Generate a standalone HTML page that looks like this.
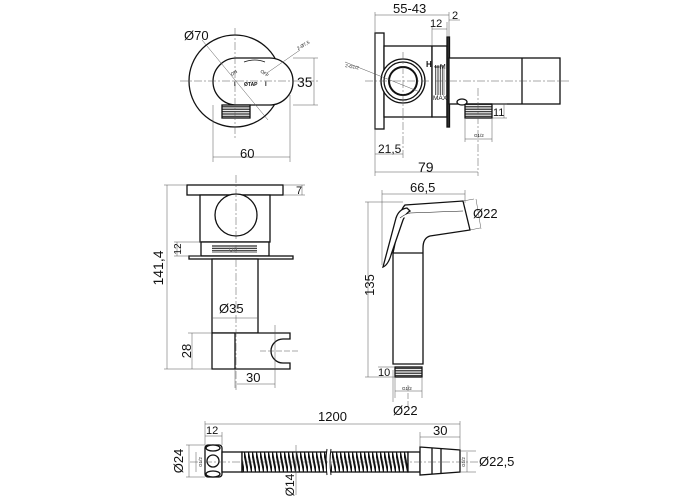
<!DOCTYPE html>
<html><head><meta charset="utf-8"><style>
html,body{margin:0;padding:0;background:#fff}
svg{display:block}
text{font-family:"Liberation Sans",sans-serif;fill:#111}
</style></head><body>
<svg width="700" height="500" viewBox="0 0 700 500" xmlns="http://www.w3.org/2000/svg">
<defs>
<pattern id="hose" width="4" height="20" patternUnits="userSpaceOnUse" patternTransform="translate(0,452)">
<rect width="4" height="20" fill="#fff"/>
<line x1="0" y1="0" x2="4" y2="20" stroke="#111" stroke-width="2"/>
</pattern>
<pattern id="thr" width="6" height="2.4" patternUnits="userSpaceOnUse">
<rect width="6" height="2.4" fill="#fff"/><line x1="0" y1="1.2" x2="6" y2="1.2" stroke="#222" stroke-width="1.2"/>
</pattern>
<pattern id="thrv" width="2.4" height="6" patternUnits="userSpaceOnUse">
<rect width="2.4" height="6" fill="#fff"/><line x1="1.2" y1="0" x2="1.2" y2="6" stroke="#333" stroke-width="1"/>
</pattern>
</defs>
<g fill="none" stroke="#111" stroke-width="1.3">
<circle cx="235" cy="81" r="46"/>
<rect x="213" y="58" width="80" height="47" rx="23.5" fill="#fff"/>
<rect x="222" y="105" width="28" height="13" fill="url(#thr)"/>
<path d="M244 62 Q255 58 265 62" stroke-width="0.8"/>
</g>
<g stroke="#555" stroke-width="0.5" fill="none">
<line x1="180" y1="81" x2="320" y2="81" stroke-dasharray="8,2,2,2"/>
<line x1="235" y1="28" x2="235" y2="140" stroke-dasharray="8,2,2,2"/>
<line x1="202" y1="40" x2="268" y2="120"/>
<line x1="267" y1="73" x2="300" y2="50"/>
<line x1="213" y1="105" x2="213" y2="162"/><line x1="290" y1="95" x2="290" y2="162"/>
<line x1="213" y1="157" x2="290" y2="157"/>
<line x1="293" y1="58" x2="318" y2="58"/><line x1="293" y1="105" x2="318" y2="105"/>
<line x1="314" y1="58" x2="314" y2="105"/>
</g>
<text x="184" y="40" font-size="13">Ø70</text>
<text x="240" y="158" font-size="13">60</text>
<text x="297" y="87" font-size="14">35</text>
<text x="298" y="50" font-size="4.5" transform="rotate(-30 298 50)">2-Ø7,5</text>
<text x="232" y="76" font-size="4.5" transform="rotate(-35 232 76)">ON</text>
<text x="260" y="72" font-size="4.5" transform="rotate(35 260 72)">OFF</text>
<text x="244" y="86" font-size="5" font-weight="bold">ØTAP</text>
<text x="234" y="86" font-size="6" font-weight="bold">I</text>
<text x="265" y="86" font-size="6" font-weight="bold">I</text>

<g fill="#fff" stroke="#111" stroke-width="1.3">
<rect x="375" y="33" width="9" height="96"/>
<rect x="384" y="46" width="48" height="71"/>
<rect x="432" y="46" width="15" height="71"/>
<rect x="447" y="37" width="2.5" height="90" fill="#333"/>
<rect x="449" y="58" width="111" height="46"/>
<line x1="522" y1="58" x2="522" y2="104"/>
<circle cx="403" cy="81" r="22"/>
<circle cx="403" cy="81" r="19"/>
<circle cx="403" cy="81" r="14" stroke-width="2"/>
<rect x="465" y="104" width="27" height="14" fill="url(#thr)"/>
<ellipse cx="462" cy="102" rx="5" ry="3"/>
<rect x="435" y="65" width="10" height="30" fill="url(#thrv)" stroke="none"/>
</g>
<text x="426" y="67" font-size="8" font-weight="bold">H</text>
<text x="434" y="69" font-size="7">⇐M</text>
<text x="433" y="100" font-size="6.5">MAX</text>
<text x="345" y="67" font-size="4.5" transform="rotate(10 345 67)">2-G1/2</text>
<g stroke="#555" stroke-width="0.5" fill="none">
<line x1="365" y1="81" x2="570" y2="81" stroke-dasharray="8,2,2,2"/>
<line x1="403" y1="52" x2="403" y2="158" stroke-dasharray="8,2,2,2"/>
<line x1="478" y1="88" x2="478" y2="176" stroke-dasharray="8,2,2,2"/>
<line x1="345" y1="62" x2="420" y2="92"/>
<line x1="375" y1="12" x2="375" y2="176"/>
<line x1="449" y1="12" x2="449" y2="37"/>
<line x1="432" y1="26" x2="432" y2="46"/>
<line x1="447" y1="22" x2="447" y2="37"/>
<line x1="375" y1="15" x2="449" y2="15"/>
<line x1="432" y1="29" x2="447" y2="29"/>
<line x1="449" y1="20" x2="460" y2="20"/>
<line x1="375" y1="154" x2="403" y2="154"/>
<line x1="375" y1="172" x2="478" y2="172"/>
<line x1="492" y1="104" x2="507" y2="104"/><line x1="492" y1="118" x2="507" y2="118"/>
<line x1="504" y1="104" x2="504" y2="118"/>
<line x1="465" y1="118" x2="465" y2="142"/><line x1="492" y1="118" x2="492" y2="142"/>
<line x1="465" y1="139" x2="492" y2="139"/>
</g>
<text x="393" y="13" font-size="13">55-43</text>
<text x="430" y="27" font-size="11">12</text>
<text x="452" y="19" font-size="11">2</text>
<text x="378" y="153" font-size="12">21,5</text>
<text x="418" y="172" font-size="14">79</text>
<text x="493" y="116" font-size="11">11</text>
<text x="474" y="137" font-size="4.5">G1/2</text>

<g fill="#fff" stroke="#111" stroke-width="1.3">
<rect x="187" y="185" width="96" height="10"/>
<rect x="200" y="195" width="70" height="47"/>
<circle cx="236" cy="215" r="21"/>
<rect x="201" y="242" width="68" height="14"/>
<rect x="212" y="245" width="45" height="8" fill="url(#thr)" stroke="none"/>
<rect x="189" y="256" width="104" height="3"/>
<rect x="212" y="259" width="46" height="74"/>
<path d="M212 333 H290 V339 H283 A12 12 0 1 0 283 363 H290 V369 H212 Z"/>
<line x1="235" y1="333" x2="235" y2="369"/>
</g>
<text x="229" y="252" font-size="6" style="fill:#666">UP</text>
<g stroke="#555" stroke-width="0.5" fill="none">
<line x1="236" y1="175" x2="236" y2="390" stroke-dasharray="8,2,2,2"/>
<line x1="260" y1="351" x2="300" y2="351" stroke-dasharray="6,2"/>
<line x1="275" y1="325" x2="275" y2="388"/>
<line x1="164" y1="185" x2="187" y2="185"/><line x1="164" y1="369" x2="212" y2="369"/>
<line x1="167" y1="185" x2="167" y2="369"/>
<line x1="174" y1="242" x2="201" y2="242"/><line x1="174" y1="256" x2="201" y2="256"/>
<line x1="177" y1="242" x2="177" y2="256"/>
<line x1="283" y1="185" x2="305" y2="185"/><line x1="283" y1="195" x2="305" y2="195"/>
<line x1="302" y1="185" x2="302" y2="195"/>
<line x1="212" y1="318" x2="258" y2="318"/>
<line x1="188" y1="333" x2="212" y2="333"/>
<line x1="192" y1="333" x2="192" y2="369"/>
<line x1="235" y1="369" x2="235" y2="388"/>
<line x1="235" y1="384" x2="275" y2="384"/>
</g>
<text x="172" y="277" font-size="14" transform="rotate(-90 163 277)" text-anchor="middle">141,4</text>
<text x="181" y="249" font-size="10" transform="rotate(-90 181 249)" text-anchor="middle">12</text>
<text x="296" y="194" font-size="11">7</text>
<text x="219" y="313" font-size="13">Ø35</text>
<text x="191" y="351" font-size="13" transform="rotate(-90 191 351)" text-anchor="middle">28</text>
<text x="246" y="382" font-size="13">30</text>

<g fill="#fff" stroke="#111" stroke-width="1.3">
<path d="M405 205 L463 201 L470 230 L430 236 Q423 238 423 248 V364 H393 V253 Q396 240 398 225 Q400 210 405 205 Z"/>
<path d="M407 208 Q399 209 396 218 L383 267 Q388 265 391 255 L403 220 Q406 213 410 211 Z"/>
<path d="M400 218 Q405 214 410 213 L463 211" stroke-width="0.6"/>
<line x1="393" y1="253" x2="423" y2="253"/>
<rect x="395" y="367" width="27" height="10" fill="url(#thr)"/>
</g>
<g stroke="#555" stroke-width="0.5" fill="none">
<line x1="408" y1="385" x2="408" y2="408" stroke-dasharray="6,2"/>
<line x1="382" y1="190" x2="382" y2="265"/><line x1="465" y1="190" x2="465" y2="203"/>
<line x1="382" y1="194" x2="465" y2="194"/>
<line x1="463" y1="201" x2="474" y2="199"/><line x1="470" y1="230" x2="480" y2="228"/>
<line x1="476" y1="199" x2="481" y2="229"/>
<line x1="365" y1="202" x2="403" y2="202"/><line x1="365" y1="377" x2="395" y2="377"/>
<line x1="368" y1="202" x2="368" y2="377"/>
<line x1="378" y1="367" x2="395" y2="367"/>
<line x1="395" y1="377" x2="395" y2="398"/><line x1="422" y1="377" x2="422" y2="398"/>
<line x1="395" y1="391" x2="422" y2="391"/>
<line x1="393" y1="370" x2="393" y2="402"/>
</g>
<text x="410" y="192" font-size="13">66,5</text>
<text x="473" y="218" font-size="13">Ø22</text>
<text x="379" y="290" font-size="13" transform="rotate(-90 374 290)" text-anchor="middle">135</text>
<text x="378" y="376" font-size="11">10</text>
<text x="402" y="390" font-size="4.5">G1/2</text>
<text x="393" y="415" font-size="13">Ø22</text>

<g fill="#fff" stroke="#111" stroke-width="1.3">
<rect x="205" y="445" width="17" height="32" rx="3"/>
<ellipse cx="213" cy="448" rx="7" ry="3"/>
<circle cx="213" cy="461" r="6"/>
<ellipse cx="213" cy="474" rx="7" ry="3"/>
<rect x="222" y="452" width="20" height="20"/>
<rect x="242" y="452" width="166" height="20" fill="url(#hose)"/>
<rect x="408" y="452" width="12" height="20"/>
<path d="M420 447 L460 450 V472 L420 475 Z"/>
<line x1="432" y1="448" x2="432" y2="474"/>
<line x1="441" y1="449" x2="441" y2="473"/>
</g>
<rect x="327" y="449" width="4" height="26" fill="#fff"/>
<path d="M327 449 Q325 461 327 475 M331 449 Q329 461 331 475" stroke="#111" fill="none" stroke-width="1"/>
<g stroke="#555" stroke-width="0.5" fill="none">
<line x1="190" y1="462" x2="480" y2="462" stroke-dasharray="8,2,2,2"/>
<line x1="205" y1="421" x2="205" y2="445"/><line x1="460" y1="421" x2="460" y2="450"/>
<line x1="205" y1="424" x2="460" y2="424"/>
<line x1="222" y1="432" x2="222" y2="445"/><line x1="205" y1="436" x2="222" y2="436"/>
<line x1="420" y1="432" x2="420" y2="447"/><line x1="420" y1="437" x2="460" y2="437"/>
<line x1="186" y1="445" x2="205" y2="445"/><line x1="186" y1="477" x2="205" y2="477"/>
<line x1="189" y1="445" x2="189" y2="477"/>
<line x1="196" y1="452" x2="196" y2="472"/>
<line x1="460" y1="451" x2="476" y2="451"/><line x1="460" y1="472" x2="476" y2="472"/>
<line x1="467" y1="452" x2="467" y2="472"/>
<line x1="296" y1="445" x2="296" y2="495"/>
</g>
<text x="318" y="421" font-size="13">1200</text>
<text x="206" y="434" font-size="11">12</text>
<text x="433" y="435" font-size="13">30</text>
<text x="183" y="461" font-size="13" transform="rotate(-90 183 461)" text-anchor="middle">Ø24</text>
<text x="202" y="462" font-size="4.5" transform="rotate(-90 202 462)" text-anchor="middle">G1/2</text>
<text x="465" y="462" font-size="4.5" transform="rotate(-90 465 462)" text-anchor="middle">G1/2</text>
<text x="479" y="466" font-size="13">Ø22,5</text>
<text x="294" y="485" font-size="12" transform="rotate(-90 294 485)" text-anchor="middle">Ø14</text>
</svg>
</body></html>
